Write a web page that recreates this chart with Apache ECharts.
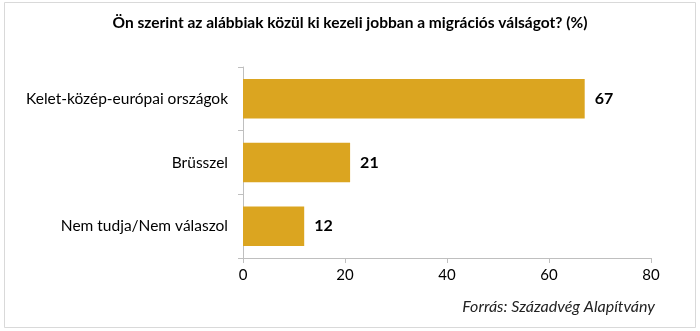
<!DOCTYPE html>
<html><head><meta charset="utf-8">
<script src="https://cdn.jsdelivr.net/npm/echarts@6/dist/echarts.min.js"></script>
<style>html,body{margin:0;padding:0;background:#fff}#c{width:700px;height:331px}</style>
</head><body><div id="c"></div>
<script>
const categories = ["Kelet-közép-európai országok", "Brüsszel", "Nem tudja/Nem válaszol"];
const values = [67, 21, 12];
const xTicks = [0, 20, 40, 60, 80];
const titleText = "Ön szerint az alábbiak közül ki kezeli jobban a migrációs válságot? (%)";
const sourceText = "Forrás: Századvég Alapítvány";

const chart = echarts.init(document.getElementById('c'), null, {renderer: 'canvas'});
const FONT = 'Lato, "Open Sans", sans-serif';
chart.setOption({
  animation: false,
  backgroundColor: '#fff',
  title: {
    text: titleText, left: 'center', top: 10,
    textStyle: {fontFamily: FONT, fontSize: 15.5, fontWeight: 'bold', color: '#000'}
  },
  graphic: [
    {type: 'rect', shape: {x: 4.5, y: 2.5, width: 691, height: 325}, style: {fill: 'none', stroke: '#d9d9d9', lineWidth: 1}, silent: true},
    {type: 'text', right: 45, top: 299, style: {text: sourceText, font: 'italic 16px ' + FONT, fill: '#222'}}
  ],
  grid: {left: 243, right: 49, top: 67, bottom: 73},
  xAxis: {
    type: 'value', min: xTicks[0], max: xTicks[xTicks.length - 1], interval: 20,
    axisLine: {show: true, lineStyle: {color: '#bfbfbf'}},
    axisTick: {show: true, length: 5, lineStyle: {color: '#bfbfbf'}},
    splitLine: {show: false},
    axisLabel: {fontFamily: FONT, fontSize: 15, color: '#000', margin: 10}
  },
  yAxis: {
    type: 'category', data: categories, inverse: true,
    axisLine: {show: true, lineStyle: {color: '#bfbfbf'}},
    axisTick: {show: true, length: 5, lineStyle: {color: '#bfbfbf'}},
    axisLabel: {fontFamily: FONT, fontSize: 15.5, color: '#000', margin: 15}
  },
  series: [{
    type: 'bar', data: values, barWidth: '62%',
    itemStyle: {color: '#DBA520'},
    label: {show: true, position: 'right', distance: 10, fontFamily: FONT, fontSize: 16, fontWeight: 'bold', color: '#000'}
  }]
});
</script></body></html>
